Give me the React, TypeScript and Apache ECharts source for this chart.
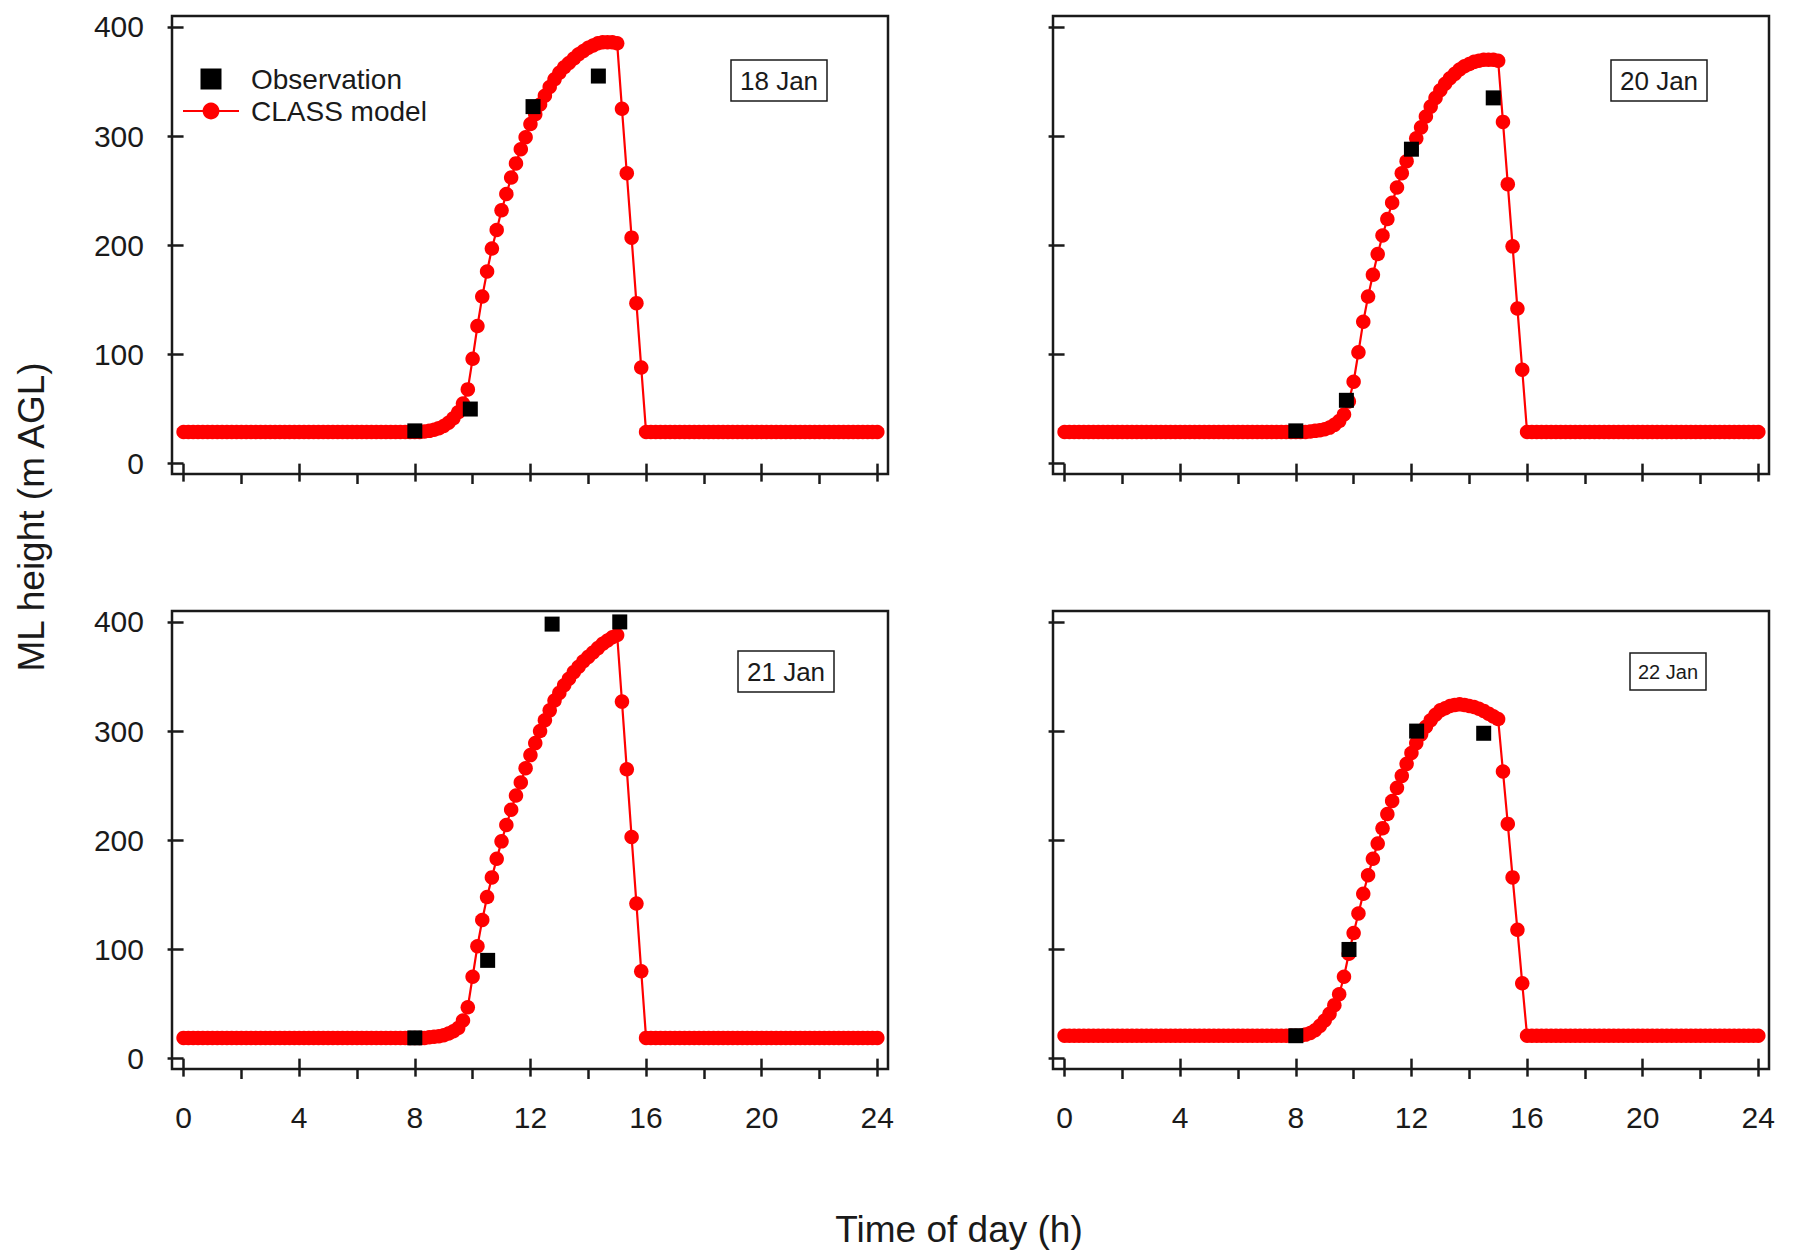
import React, { useEffect, useRef } from "react";
import * as echarts from "echarts";

// ---------- DATA ----------
// CLASS model output, one value every 10 minutes from 00:00 to 24:00 (145 values)
const modelStepMinutes = 10;

const jan18Model = [
  // 00:00 - 07:50
  29, 29, 29, 29, 29, 29, 29, 29, 29, 29, 29, 29,
  29, 29, 29, 29, 29, 29, 29, 29, 29, 29, 29, 29,
  29, 29, 29, 29, 29, 29, 29, 29, 29, 29, 29, 29,
  29, 29, 29, 29, 29, 29, 29, 29, 29, 29, 29, 29,
  // 08:00 - 16:00
  29, 29, 29.5, 30, 31, 32.5, 34.5, 37.5, 41.5, 47, 55, 68,
  96, 126, 153, 176, 197, 214,
  232, 247, 262, 275, 288, 299,
  311, 320, 329, 337, 345, 352,
  358, 363, 367, 371, 375, 378,
  381, 383, 385, 386, 386, 386,
  385, 325, 266, 207, 147, 88,
  29,
  // 16:10 - 24:00
  29, 29, 29, 29, 29, 29, 29, 29, 29, 29, 29, 29,
  29, 29, 29, 29, 29, 29, 29, 29, 29, 29, 29, 29,
  29, 29, 29, 29, 29, 29, 29, 29, 29, 29, 29, 29,
  29, 29, 29, 29, 29, 29, 29, 29, 29, 29, 29, 29,
];

const jan20Model = [
  29, 29, 29, 29, 29, 29, 29, 29, 29, 29, 29, 29,
  29, 29, 29, 29, 29, 29, 29, 29, 29, 29, 29, 29,
  29, 29, 29, 29, 29, 29, 29, 29, 29, 29, 29, 29,
  29, 29, 29, 29, 29, 29, 29, 29, 29, 29, 29, 29,
  29, 29, 29, 29.5, 30, 30.5, 31.5, 33, 35.5, 39, 45, 57,
  75, 102, 130, 153, 173, 192,
  209, 224, 239, 253, 266, 277,
  288, 298, 308, 318, 327, 335,
  342, 348, 353, 357, 361, 364,
  366, 368, 369, 370, 370, 370,
  369, 313, 256, 199, 142, 86,
  29,
  29, 29, 29, 29, 29, 29, 29, 29, 29, 29, 29, 29,
  29, 29, 29, 29, 29, 29, 29, 29, 29, 29, 29, 29,
  29, 29, 29, 29, 29, 29, 29, 29, 29, 29, 29, 29,
  29, 29, 29, 29, 29, 29, 29, 29, 29, 29, 29, 29,
];

const jan21Model = [
  19, 19, 19, 19, 19, 19, 19, 19, 19, 19, 19, 19,
  19, 19, 19, 19, 19, 19, 19, 19, 19, 19, 19, 19,
  19, 19, 19, 19, 19, 19, 19, 19, 19, 19, 19, 19,
  19, 19, 19, 19, 19, 19, 19, 19, 19, 19, 19, 19,
  19, 19, 19, 19.5, 20, 20.5, 21.5, 23, 25, 28, 35, 47,
  75, 103, 127, 148, 166, 183,
  199, 214, 228, 241, 253, 266,
  278, 289, 300, 310, 319, 328,
  335, 342, 348, 354, 359, 364,
  368, 372, 376, 380, 383, 386,
  388, 327, 265, 203, 142, 80,
  19,
  19, 19, 19, 19, 19, 19, 19, 19, 19, 19, 19, 19,
  19, 19, 19, 19, 19, 19, 19, 19, 19, 19, 19, 19,
  19, 19, 19, 19, 19, 19, 19, 19, 19, 19, 19, 19,
  19, 19, 19, 19, 19, 19, 19, 19, 19, 19, 19, 19,
];

const jan22Model = [
  21, 21, 21, 21, 21, 21, 21, 21, 21, 21, 21, 21,
  21, 21, 21, 21, 21, 21, 21, 21, 21, 21, 21, 21,
  21, 21, 21, 21, 21, 21, 21, 21, 21, 21, 21, 21,
  21, 21, 21, 21, 21, 21, 21, 21, 21, 21, 21, 21,
  21, 21, 22, 23.5, 26, 30, 35, 41, 49, 59, 75, 96,
  115, 133, 151, 168, 183, 197,
  211, 224, 236, 248, 259, 270,
  280, 289, 297, 304, 310, 315,
  319, 321, 323, 324, 324.5, 324,
  323, 322, 320.5, 318.5, 316, 313.5,
  311, 263, 215, 166, 118, 69,
  21,
  21, 21, 21, 21, 21, 21, 21, 21, 21, 21, 21, 21,
  21, 21, 21, 21, 21, 21, 21, 21, 21, 21, 21, 21,
  21, 21, 21, 21, 21, 21, 21, 21, 21, 21, 21, 21,
  21, 21, 21, 21, 21, 21, 21, 21, 21, 21, 21, 21,
];

// Observations: time of day (h) and ML height (m AGL)
const jan18ObsHours = [8.0, 9.92, 12.09, 14.35];
const jan18ObsValues = [30, 50, 327, 355];
const jan20ObsHours = [8.0, 9.75, 12.0, 14.83];
const jan20ObsValues = [30, 58, 288, 335];
const jan21ObsHours = [8.0, 10.52, 12.75, 15.09];
const jan21ObsValues = [19, 90, 398, 400];
const jan22ObsHours = [8.0, 9.84, 12.18, 14.5];
const jan22ObsValues = [21, 100, 300, 298];

const panelLabels = ["18 Jan", "20 Jan", "21 Jan", "22 Jan"];
const xMajorTicks = [0, 4, 8, 12, 16, 20, 24];
const xMinorTicks = [2, 6, 10, 14, 18, 22];
const yTicks = [0, 100, 200, 300, 400];
const seriesNames = ["Observation", "CLASS model"];
const xTitle = "Time of day (h)";
const yTitle = "ML height (m AGL)";

// ---------- LAYOUT / STYLE ----------
const FONT = "'Liberation Sans', Arial, sans-serif";
const INK = "#1a1a1a";
const RED = "#ff0000";
const GRID_W = 716;
const GRID_H = 458;
const gridPos = [
  { left: 172, top: 16 },
  { left: 1053, top: 16 },
  { left: 172, top: 611 },
  { left: 1053, top: 611 },
];
const labelBoxes = [
  { left: 731, top: 60, fontSize: 26, padding: [6, 9] },
  { left: 1611, top: 60, fontSize: 26, padding: [6, 9] },
  { left: 738, top: 651, fontSize: 26, padding: [6, 9] },
  { left: 1630, top: 653, fontSize: 20, padding: [7, 8] },
];

const X_MIN = -0.4;
const X_MAX = 24.37;
const Y_MIN = -9.5;
const Y_MAX = 410;

function buildOption() {
  const models = [jan18Model, jan20Model, jan21Model, jan22Model];
  const obsH = [jan18ObsHours, jan20ObsHours, jan21ObsHours, jan22ObsHours];
  const obsV = [jan18ObsValues, jan20ObsValues, jan21ObsValues, jan22ObsValues];

  const grid: any[] = [];
  const xAxis: any[] = [];
  const yAxis: any[] = [];
  const series: any[] = [];
  const title: any[] = [];

  for (let k = 0; k < 4; k++) {
    const isBottom = k >= 2;
    const isLeft = k % 2 === 0;
    grid.push({
      left: gridPos[k].left,
      top: gridPos[k].top,
      width: GRID_W,
      height: GRID_H,
      show: true,
      borderColor: INK,
      borderWidth: 2.5,
      backgroundColor: "transparent",
      containLabel: false,
    });
    // major x ticks (+ labels on bottom row)
    xAxis.push({
      type: "value",
      gridIndex: k,
      min: X_MIN,
      max: X_MAX,
      position: "bottom",
      axisLine: { show: false },
      splitLine: { show: false },
      axisTick: {
        show: true,
        inside: false,
        length: 18,
        customValues: xMajorTicks,
        lineStyle: { color: INK, width: 2.5 },
      },
      axisLabel: {
        show: isBottom,
        customValues: xMajorTicks,
        margin: 33,
        fontSize: 30,
        fontFamily: FONT,
        color: INK,
      },
    });
    // minor x ticks
    xAxis.push({
      type: "value",
      gridIndex: k,
      min: X_MIN,
      max: X_MAX,
      position: "bottom",
      axisLine: { show: false },
      splitLine: { show: false },
      axisTick: {
        show: true,
        inside: false,
        length: 10,
        customValues: xMinorTicks,
        lineStyle: { color: INK, width: 2.5 },
      },
      axisLabel: { show: false },
    });
    yAxis.push({
      type: "value",
      gridIndex: k,
      min: Y_MIN,
      max: Y_MAX,
      position: "left",
      axisLine: { show: false },
      splitLine: { show: false },
      axisTick: {
        show: true,
        inside: false,
        length: 16,
        customValues: yTicks,
        lineStyle: { color: INK, width: 2.5 },
      },
      axisLabel: {
        show: isLeft,
        customValues: yTicks,
        margin: 28,
        fontSize: 30,
        fontFamily: FONT,
        color: INK,
      },
    });

    const modelData = models[k].map((v, i) => [(i * modelStepMinutes) / 60, v]);
    series.push({
      name: seriesNames[1],
      type: "line",
      xAxisIndex: 2 * k,
      yAxisIndex: k,
      data: modelData,
      symbol: "circle",
      symbolSize: 14.5,
      showAllSymbol: true,
      itemStyle: { color: RED, opacity: 1 },
      lineStyle: { color: RED, width: 2.2 },
      z: 2,
    });
    series.push({
      name: seriesNames[0],
      type: "scatter",
      xAxisIndex: 2 * k,
      yAxisIndex: k,
      data: obsH[k].map((h, i) => [h, obsV[k][i]]),
      symbol: "rect",
      symbolSize: 15,
      itemStyle: { color: "#000000", opacity: 1 },
      z: 5,
    });

    title.push({
      text: panelLabels[k],
      left: labelBoxes[k].left,
      top: labelBoxes[k].top,
      padding: labelBoxes[k].padding,
      borderWidth: 1.5,
      borderColor: INK,
      backgroundColor: "#ffffff",
      textStyle: {
        fontSize: labelBoxes[k].fontSize,
        fontWeight: "normal",
        fontFamily: FONT,
        color: INK,
        lineHeight: labelBoxes[k].fontSize + 3,
      },
    });
  }

  return {
    animation: false,
    backgroundColor: "#ffffff",
    title,
    grid,
    xAxis,
    yAxis,
    series,
    legend: {
      orient: "vertical",
      left: 177,
      top: 59,
      itemWidth: 56,
      itemHeight: 21,
      itemGap: 2,
      symbolKeepAspect: true,
      selectedMode: false,
      itemStyle: { opacity: 1 },
      textStyle: {
        fontSize: 28,
        fontFamily: FONT,
        color: INK,
        lineHeight: 30,
        padding: [0, 0, 0, 7],
      },
      data: [
        { name: seriesNames[0], icon: "path://M0,0L10,0L10,10L0,10Z" },
        { name: seriesNames[1] },
      ],
    },
    graphic: [
      {
        type: "text",
        x: 31,
        y: 517,
        rotation: Math.PI / 2,
        style: {
          text: yTitle,
          fontSize: 37,
          fontFamily: FONT,
          fill: INK,
          align: "center",
          verticalAlign: "middle",
        },
      },
      {
        type: "text",
        x: 959,
        y: 1229,
        style: {
          text: xTitle,
          fontSize: 37,
          fontFamily: FONT,
          fill: INK,
          align: "center",
          verticalAlign: "middle",
        },
      },
    ],
  };
}

export default function App() {
  const ref = useRef<HTMLDivElement>(null);
  useEffect(() => {
    if (!ref.current) return;
    const chart = echarts.init(ref.current, null, { renderer: "svg" });
    chart.setOption(buildOption() as any);
    return () => chart.dispose();
  }, []);
  return (
    <div
      ref={ref}
      style={{ position: "fixed", left: 0, top: 0, width: 1800, height: 1251, background: "#fff" }}
    />
  );
}
